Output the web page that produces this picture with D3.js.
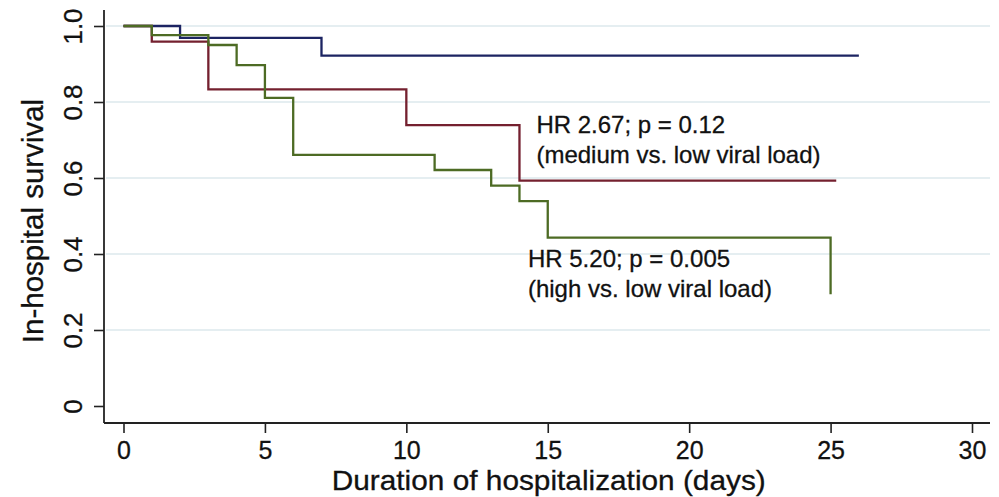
<!DOCTYPE html>
<meta charset="utf-8">
<style>
  body { margin: 0; background: #fff; }
  text { font-family: "Liberation Sans", Arial, Helvetica, sans-serif; fill: #111; stroke: #111; stroke-width: 0.3px; }
</style>
<body>
<script src="https://d3js.org/d3.v7.min.js"></script>
<script>

// Kaplan-Meier steps (time in days, survival)
var lowTime = [0, 2, 7, 26];
var lowSurv = [1, 0.969, 0.922, 0.922];

var mediumTime = [0, 1, 3, 10, 14, 25.2];
var mediumSurv = [1, 0.959, 0.833, 0.739, 0.593, 0.593];

var highTime = [0, 1, 3, 4, 5, 6, 11, 13, 14, 15, 25];
var highSurv = [1, 0.976, 0.950, 0.897, 0.811, 0.661, 0.621, 0.580, 0.539, 0.443, 0.294];

var xTicks = [0, 5, 10, 15, 20, 25, 30];
var yTicks = [0, 0.2, 0.4, 0.6, 0.8, 1.0];
var yTickLabels = ["0", "0.2", "0.4", "0.6", "0.8", "1.0"];

var annotations = [
  {lines: ["HR 2.67; p = 0.12", "(medium vs. low viral load)"], t: 14.6, s: 0.718},
  {lines: ["HR 5.20; p = 0.005", "(high vs. low viral load)"], t: 14.3, s: 0.365}
];

var width = 999,
    height = 497;

var svg = d3.select("body").append("svg")
    .attr("width", width)
    .attr("height", height);

var x = d3.scaleLinear().domain([0, 30]).range([123.5, 972]);
var y = d3.scaleLinear().domain([0, 1]).range([406, 26]);

var axisX = 104,   // y axis sits left of the plot region
    axisY = 423;   // x axis sits below it

// grid lines
svg.append("g")
  .selectAll("line")
  .data(yTicks.filter(function(d) { return d > 0; }))
  .enter().append("line")
    .attr("x1", axisX + 2)
    .attr("x2", 990)
    .attr("y1", function(d) { return y(d); })
    .attr("y2", function(d) { return y(d); })
    .attr("stroke", "#dde8ec")
    .attr("stroke-width", 1.6);

// y axis
var gy = svg.append("g")
    .attr("transform", "translate(" + axisX + ",0)")
    .call(d3.axisLeft(y).tickValues(yTicks).tickSize(10).tickSizeOuter(0)
      .tickFormat(function(d, i) { return yTickLabels[i]; }));
gy.select(".domain").remove();
gy.selectAll(".tick line").attr("stroke", "#222").attr("stroke-width", 1.6);
gy.selectAll(".tick text")
    .attr("font-size", 26)
    .attr("x", 0).attr("dy", 0)
    .attr("text-anchor", "middle")
    .attr("transform", "translate(-22,0) rotate(-90)");
gy.append("line")
    .attr("y1", 10).attr("y2", axisY)
    .attr("stroke", "#222").attr("stroke-width", 1.8);

// x axis
var gx = svg.append("g")
    .attr("transform", "translate(0," + axisY + ")")
    .call(d3.axisBottom(x).tickValues(xTicks).tickSize(10).tickSizeOuter(0));
gx.select(".domain").remove();
gx.selectAll(".tick line").attr("stroke", "#222").attr("stroke-width", 1.6);
gx.selectAll(".tick text")
    .attr("font-size", 25)
    .attr("y", 36).attr("dy", 0);
gx.append("line")
    .attr("x1", axisX).attr("x2", 990)
    .attr("stroke", "#222").attr("stroke-width", 1.8);

// axis titles
svg.append("text")
    .attr("x", (x(0) + x(30)) / 2 + 1)
    .attr("y", 490)
    .attr("text-anchor", "middle")
    .attr("font-size", 28)
    .attr("textLength", 434)
    .attr("lengthAdjust", "spacingAndGlyphs")
    .text("Duration of hospitalization (days)");

svg.append("text")
    .attr("transform", "translate(43,221) rotate(-90)")
    .attr("text-anchor", "middle")
    .attr("font-size", 29.5)
    .text("In-hospital survival");

// survival curves
var step = d3.line()
    .x(function(d) { return x(d[0]); })
    .y(function(d) { return y(d[1]); })
    .curve(d3.curveStepAfter);

var curves = [
  {time: lowTime, surv: lowSurv, color: "#1c2462"},
  {time: mediumTime, surv: mediumSurv, color: "#74202f"},
  {time: highTime, surv: highSurv, color: "#4d6b24"}
];

svg.append("g")
  .selectAll("path")
  .data(curves)
  .enter().append("path")
    .attr("fill", "none")
    .attr("stroke", function(d) { return d.color; })
    .attr("stroke-width", 2.3)
    .attr("d", function(d) { return step(d.time.map(function(t, i) { return [t, d.surv[i]]; })); });

// hazard ratio notes
var note = svg.append("g")
  .selectAll("text")
  .data(annotations)
  .enter().append("text")
    .attr("font-size", 24)
    .attr("x", function(d) { return x(d.t); })
    .attr("y", function(d) { return y(d.s); });

note.selectAll("tspan")
  .data(function(d) { return d.lines; })
  .enter().append("tspan")
    .attr("x", function() { return this.parentNode.getAttribute("x"); })
    .attr("dy", function(d, i) { return i === 0 ? 0 : 30; })
    .text(function(d) { return d; });

</script>
</body>
